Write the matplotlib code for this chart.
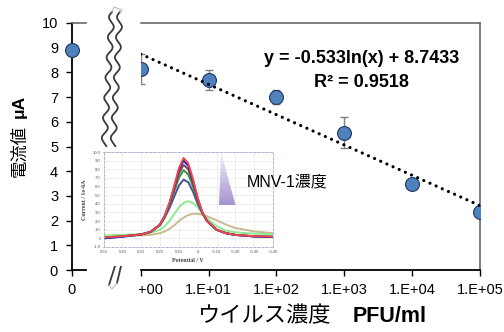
import numpy as np
import matplotlib
matplotlib.use("Agg")
import matplotlib.pyplot as plt
from matplotlib.lines import Line2D
from matplotlib.patches import Rectangle, Polygon

plt.rcParams['font.family'] = ['Liberation Sans', 'Noto Sans CJK JP']

# 主グラフのデータ
conc = [1, 10, 100, 1000, 10000, 100000]
conc_labels = ["1.E+00", "1.E+01", "1.E+02", "1.E+03", "1.E+04", "1.E+05"]
current = [8.14, 7.69, 7.02, 5.56, 3.47, 2.36]
current_err = [0.60, 0.42, 0.28, 0.63, 0.08, 0.05]
blank_current = 8.9          # 濃度 0
fit_a = -0.533               # y = a ln(x) + b
fit_b = 8.7433
fit_r2 = 0.9518

# 挿入図 (ボルタモグラム) のデータ
potential = [0.50, 0.40, 0.30, 0.25, 0.20, 0.175, 0.15, 0.125, 0.10, 0.075,
             0.05, 0.025, 0.0, -0.025, -0.05, -0.10, -0.15, -0.20, -0.30, -0.40]
cv_red = [0.10, 0.25, 0.45, 0.75, 1.6, 2.6, 4.1, 6.0, 8.1, 9.3,
          8.7, 6.9, 4.7, 3.0, 2.0, 1.0, 0.60, 0.40, 0.25, 0.20]
cv_blue = [0.00, 0.20, 0.45, 0.75, 1.6, 2.6, 4.0, 5.9, 7.9, 9.0,
           8.4, 6.7, 4.6, 3.0, 2.0, 1.0, 0.60, 0.40, 0.22, 0.15]
cv_brown = [0.05, 0.22, 0.45, 0.75, 1.6, 2.6, 4.0, 5.7, 7.5, 8.5,
            8.0, 6.4, 4.5, 3.0, 2.0, 1.0, 0.60, 0.40, 0.24, 0.18]
cv_green = [0.10, 0.25, 0.45, 0.75, 1.6, 2.5, 3.8, 5.4, 7.0, 7.9,
            7.4, 6.0, 4.3, 2.9, 2.0, 1.0, 0.60, 0.40, 0.25, 0.20]
cv_slate = [0.00, 0.20, 0.45, 0.75, 1.5, 2.4, 3.5, 4.8, 6.1, 6.8,
            6.5, 5.4, 4.0, 2.9, 2.0, 1.0, 0.60, 0.40, 0.22, 0.15]
cv_lime = [0.30, 0.40, 0.50, 0.65, 1.0, 1.4, 2.0, 2.8, 3.6, 4.1,
           4.3, 4.1, 3.6, 2.9, 2.3, 1.4, 0.90, 0.70, 0.55, 0.50]
cv_tan = [0.30, 0.30, 0.35, 0.40, 0.6, 0.8, 1.1, 1.5, 2.0, 2.4,
          2.7, 2.85, 2.85, 2.75, 2.55, 2.1, 1.6, 1.2, 0.80, 0.60]
cv_series = [(cv_tan, '#c9b98e'), (cv_lime, '#8fe88f'), (cv_slate, '#4b4f9c'),
             (cv_green, '#2f9a3c'), (cv_brown, '#8e3f46'), (cv_blue, '#2020d8'),
             (cv_red, '#f04848')]
cv_xticks = [0.5, 0.4, 0.3, 0.2, 0.1, 0.0, -0.1, -0.2, -0.3, -0.4]
cv_xlabels = ["0.50", "0.40", "0.30", "0.20", "0.10", "0", "-0.10", "-0.20", "-0.30", "-0.40"]
cv_yticks = list(range(-1, 11))
cv_ylabels = ["-1.0", "0"] + ["%d.0" % v for v in range(1, 11)]

W, H = 504, 332


def fx(x):
    return x / W


def fy(y):
    return 1 - y / H


fig = plt.figure(figsize=(W / 100, H / 100), dpi=100)

marker_kw = dict(marker='o', markersize=10, markerfacecolor='#4f81bd',
                 markeredgecolor='#1f3a60', markeredgewidth=0.8)

# 右側 (対数軸)
ax = fig.add_axes([fx(140.7), fy(270), (480 - 140.7) / W, (270 - 23) / H])
ax.set_xscale('log')
ax.set_xlim(1, 1e5)
ax.set_ylim(0, 10)
ax.errorbar(conc, current, yerr=current_err, fmt='none', ecolor='#808080',
            elinewidth=1, capsize=3, capthick=1, zorder=2)
ax.plot(conc, current, linestyle='none', zorder=3, **marker_kw)
fit_x = [conc[0], conc[-1]]
fit_y = [fit_a * np.log(v) + fit_b for v in fit_x]
ax.plot(fit_x, fit_y, color='black', linewidth=2.3, linestyle=(0, (0.01, 2.1)),
        dash_capstyle='round', zorder=4)
ax.set_xticks(conc)
ax.set_xticklabels(conc_labels)
ax.xaxis.set_minor_locator(matplotlib.ticker.NullLocator())
ax.set_yticks([])
ax.tick_params(axis='x', direction='out', length=4, width=1, pad=5, labelsize=10.5)
ax.spines['left'].set_visible(False)
ax.spines['bottom'].set_linewidth(1.3)
for s in ['top', 'right']:
    ax.spines[s].set_color('#6a6a6a')
    ax.spines[s].set_linewidth(1.2)
ax.text(0.652, 0.858, "y = -0.533ln(x) + 8.7433", transform=ax.transAxes,
        ha='center', va='center', fontsize=13, fontweight='bold')
ax.text(0.652, 0.761, "R² = %.4f" % fit_r2, transform=ax.transAxes,
        ha='center', va='center', fontsize=13, fontweight='bold')

# 左側 (濃度 0)
ax0 = fig.add_axes([fx(72), fy(270), 14 / W, (270 - 23) / H])
ax0.set_xlim(0, 1)
ax0.set_ylim(0, 10)
ax0.plot([0], [blank_current], clip_on=False, zorder=5, **marker_kw)
ax0.set_xticks([0])
ax0.set_xticklabels(["0"])
ax0.set_yticks(range(0, 11))
ax0.tick_params(direction='out', length=4, width=1, pad=6, labelsize=10.5)
ax0.tick_params(axis='x', pad=5)
ax0.spines['right'].set_visible(False)
ax0.spines['left'].set_linewidth(1.3)
ax0.spines['bottom'].set_linewidth(1.3)
ax0.spines['top'].set_color('#6a6a6a')
ax0.spines['top'].set_linewidth(1.2)

# 軸ラベル
fig.text(fx(19), fy(151), "電流値", rotation=90, ha='center', va='center', fontsize=12.5)
fig.text(fx(19), fy(106), "μA", rotation=90, ha='center', va='center',
         fontsize=12.5, fontweight='bold')
fig.text(fx(265), fy(317), "ウイルス濃度", ha='center', va='center', fontsize=16)
fig.text(fx(390), fy(317), "PFU/ml", ha='center', va='center', fontsize=15.5,
         fontweight='bold')

# 軸の省略記号 (波線)
def wave(x0, y0, x1, y1, n=6.7, amp=2.7):
    t = np.linspace(0, 1, 300)
    dx, dy = x1 - x0, y1 - y0
    L = np.hypot(dx, dy)
    px, py = -dy / L, dx / L
    xs = x0 + t * dx + px * amp * np.sin(2 * np.pi * n * t)
    ys = y0 + t * dy + py * amp * np.sin(2 * np.pi * n * t)
    return fx(xs), fy(ys)


fig.add_artist(Rectangle((fx(100), fy(305)), 38.5 / W, 29 / H, facecolor='white',
                         edgecolor='none', transform=fig.transFigure, zorder=3))
for (a, b, c, d) in [(112, 12, 104, 147), (120, 12, 113, 147)]:
    xs, ys = wave(a, b, c, d)
    fig.add_artist(Line2D(xs, ys, color='#3a3a3a', linewidth=1.3,
                          transform=fig.transFigure, zorder=3.5))
cap_top = [(112, 12), (114, 7), (122, 10), (120, 13)]
fig.add_artist(Line2D([fx(p[0]) for p in cap_top], [fy(p[1]) for p in cap_top],
                      color='#bbbbbb', linewidth=0.8, transform=fig.transFigure, zorder=3.5))
for (a, b, c, d) in [(115, 266, 109, 285), (121, 266, 117, 283)]:
    fig.add_artist(Line2D([fx(a), fx(c)], [fy(b), fy(d)], color='#3a3a3a',
                          linewidth=1.3, transform=fig.transFigure, zorder=3.5))
cap_bot = [(109, 285), (112, 289), (117, 283)]
fig.add_artist(Line2D([fx(p[0]) for p in cap_bot], [fy(p[1]) for p in cap_bot],
                      color='#bbbbbb', linewidth=0.8, transform=fig.transFigure, zorder=3.5))

# 挿入図
fig.add_artist(Rectangle((fx(75), fy(266)), 202 / W, 119 / H, facecolor='white',
                         edgecolor='none', transform=fig.transFigure, zorder=4))
axi = fig.add_axes([fx(103.5), fy(247), 169.5 / W, 95 / H], zorder=5)
for vals, col in cv_series:
    axi.plot(potential, vals, color=col, linewidth=1.4)
axi.set_xlim(0.5, -0.4)
axi.set_ylim(-1, 10)
axi.set_xticks(cv_xticks)
axi.set_xticklabels(cv_xlabels)
axi.set_yticks(cv_yticks)
axi.set_yticklabels(cv_ylabels)
axi.tick_params(length=0, labelsize=3, labelcolor='#555555', pad=2)
axi.grid(True, color='#e8e8e8', linewidth=0.5)
for s in axi.spines.values():
    s.set_color('#a8a8d8')
    s.set_linewidth(0.6)
    s.set_linestyle((0, (3, 2)))
axi.set_xlabel("Potential / V", family='Liberation Serif', fontweight='bold',
               fontsize=4.3, color='#444444', labelpad=3)
axi.set_ylabel("Current / 1e-6A", family='Liberation Serif', fontweight='bold',
               fontsize=4.3, color='#444444', labelpad=4)

# 濃度の三角形 (グラデーション)
tri = Polygon([(fx(221), fy(152)), (fx(219), fy(205)), (fx(235.5), fy(205))],
              closed=True, transform=fig.transFigure, facecolor='none', edgecolor='none')
fig.add_artist(tri)
grad = np.linspace(0, 1, 100).reshape(-1, 1)
cmap = matplotlib.colors.LinearSegmentedColormap.from_list('tri', ['#f4f1fa', '#a493cf'])
gax = fig.add_axes([fx(219), fy(205), 16.5 / W, 53 / H], zorder=6)
gax.imshow(grad, aspect='auto', cmap=cmap, extent=[0, 1, 0, 1], origin='upper',
           clip_path=tri)
gax.axis('off')

fig.text(fx(247), fy(182), "MNV-1濃度", ha='left', va='center', fontsize=11.5, zorder=7)

fig.savefig("out.png", dpi=100)
